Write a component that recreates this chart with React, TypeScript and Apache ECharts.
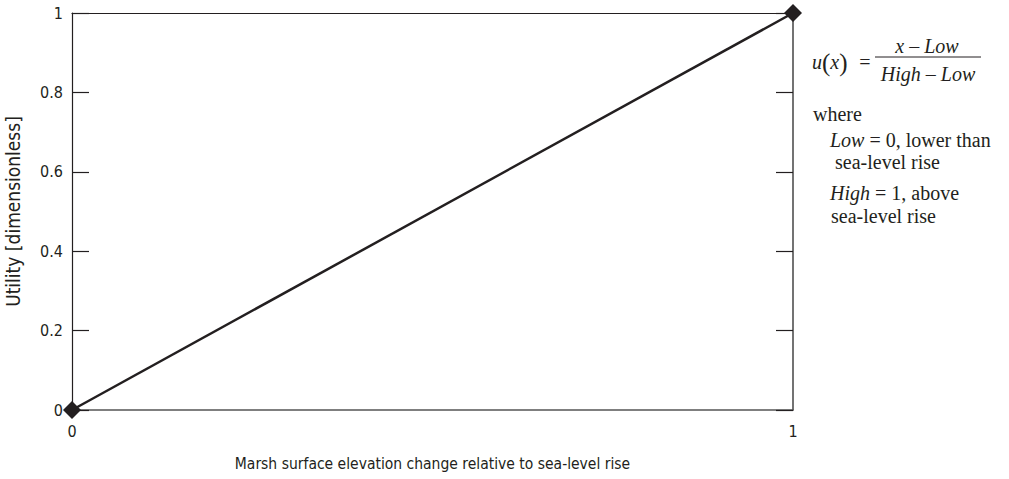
import React, { useEffect, useRef } from "react";
import * as echarts from "echarts";

const xValues = [0, 1];
const yValues = [0, 1];
const xTickLabels = ["0", "1"];
const yTickValues = [0, 0.2, 0.4, 0.6, 0.8, 1];
const xAxisTitle = "Marsh surface elevation change relative to sea-level rise";
const yAxisTitle = "Utility [dimensionless]";

const INK = "#231f20";
const SANS = "'Liberation Sans Narrow', 'DejaVu Sans Condensed', 'Roboto', sans-serif";
const SERIF = "'Liberation Serif', 'DejaVu Serif', serif";
const FS = 20;

export default function App() {
  const ref = useRef<HTMLDivElement>(null);
  useEffect(() => {
    if (!ref.current) return;
    const chart = echarts.init(ref.current, undefined, { renderer: "svg" });
    const points = xValues.map((x, i) => [x, yValues[i]]);
    const serifRich = {
      i: { fontFamily: SERIF, fontStyle: "italic", fontSize: FS, fill: INK },
      n: { fontFamily: SERIF, fontSize: FS, fill: INK },
    };
    chart.setOption({
      animation: false,
      backgroundColor: "#ffffff",
      grid: { left: 72, right: 216, top: 13, bottom: 69, containLabel: false, outerBoundsMode: "none" },
      xAxis: [
        {
          type: "value",
          min: 0,
          max: 1,
          interval: 1,
          position: "bottom",
          name: xAxisTitle,
          nameLocation: "middle",
          nameGap: 46,
          nameTextStyle: { fontFamily: SANS, fontSize: 15.5, color: INK },
          axisLine: { show: true, onZero: false, lineStyle: { color: "#555555", width: 1.5 } },
          axisTick: { show: false },
          axisLabel: {
            fontFamily: SANS,
            fontSize: 16,
            color: INK,
            margin: 13,
            formatter: (v: number) => xTickLabels[Math.round(v)] ?? "",
          },
          splitLine: { show: false },
        },
        {
          type: "value",
          min: 0,
          max: 1,
          position: "top",
          axisLine: { show: true, onZero: false, lineStyle: { color: INK, width: 1.2 } },
          axisTick: { show: false },
          axisLabel: { show: false },
          splitLine: { show: false },
        },
      ],
      yAxis: [
        {
          type: "value",
          min: 0,
          max: 1,
          interval: 0.2,
          position: "left",
          name: yAxisTitle,
          nameLocation: "middle",
          nameGap: 50,
          nameTextStyle: { fontFamily: SANS, fontSize: 19, color: INK },
          axisLine: { show: true, onZero: false, lineStyle: { color: INK, width: 1.2 } },
          axisTick: { show: true, inside: true, length: 17, lineStyle: { color: INK, width: 1.2 } },
          axisLabel: {
            fontFamily: SANS,
            fontSize: 16,
            color: INK,
            margin: 9,
            formatter: (v: number) => {
              const t = yTickValues.find((y) => Math.abs(y - v) < 1e-6);
              return t === undefined ? "" : String(t);
            },
          },
          splitLine: { show: false },
        },
        {
          type: "value",
          min: 0,
          max: 1,
          interval: 0.2,
          position: "right",
          axisLine: { show: true, onZero: false, lineStyle: { color: "#444444", width: 1.5 } },
          axisTick: { show: true, inside: true, length: 17, lineStyle: { color: INK, width: 1.2 } },
          axisLabel: { show: false },
          splitLine: { show: false },
        },
      ],
      series: [
        {
          type: "line",
          data: points,
          xAxisIndex: 0,
          yAxisIndex: 0,
          symbol: "diamond",
          symbolSize: 18,
          clip: false,
          lineStyle: { color: INK, width: 2.5 },
          itemStyle: { color: INK },
          z: 5,
        },
      ],
      graphic: [
        {
          type: "text",
          x: 812,
          y: 62,
          style: {
            text: "{i|u}{p|(}{i|x}{p|)}",
            verticalAlign: "middle",
            rich: {
              i: { fontFamily: SERIF, fontStyle: "italic", fontSize: FS, fill: INK },
              p: { fontFamily: SERIF, fontSize: 25, fill: INK },
            },
          },
        },
        {
          type: "text",
          x: 865,
          y: 62,
          style: {
            text: "=",
            fontFamily: SERIF,
            fontSize: FS,
            fill: INK,
            align: "center",
            verticalAlign: "middle",
          },
        },
        {
          type: "text",
          x: 927,
          y: 46,
          style: {
            text: "{i|x}{n| – }{i|Low}",
            rich: serifRich,
            align: "center",
            verticalAlign: "middle",
          },
        },
        {
          type: "line",
          shape: { x1: 875, y1: 57, x2: 981, y2: 57 },
          style: { stroke: INK, lineWidth: 1 },
        },
        {
          type: "text",
          x: 928,
          y: 74,
          style: {
            text: "{i|High}{n| – }{i|Low}",
            rich: serifRich,
            align: "center",
            verticalAlign: "middle",
          },
        },
        {
          type: "text",
          x: 813,
          y: 114,
          style: { text: "where", fontFamily: SERIF, fontSize: FS, fill: INK, verticalAlign: "middle" },
        },
        {
          type: "text",
          x: 830,
          y: 140,
          style: { text: "{i|Low}{n| = 0, lower than}", rich: serifRich, verticalAlign: "middle" },
        },
        {
          type: "text",
          x: 835,
          y: 162,
          style: { text: "sea-level rise", fontFamily: SERIF, fontSize: FS, fill: INK, verticalAlign: "middle" },
        },
        {
          type: "text",
          x: 830,
          y: 193,
          style: { text: "{i|High}{n| = 1, above}", rich: serifRich, verticalAlign: "middle" },
        },
        {
          type: "text",
          x: 831,
          y: 216,
          style: { text: "sea-level rise", fontFamily: SERIF, fontSize: FS, fill: INK, verticalAlign: "middle" },
        },
      ],
    });
    return () => chart.dispose();
  }, []);
  return (
    <div
      ref={ref}
      style={{ width: 1009, height: 479, position: "absolute", left: 0, top: 0, background: "#fff" }}
    />
  );
}
